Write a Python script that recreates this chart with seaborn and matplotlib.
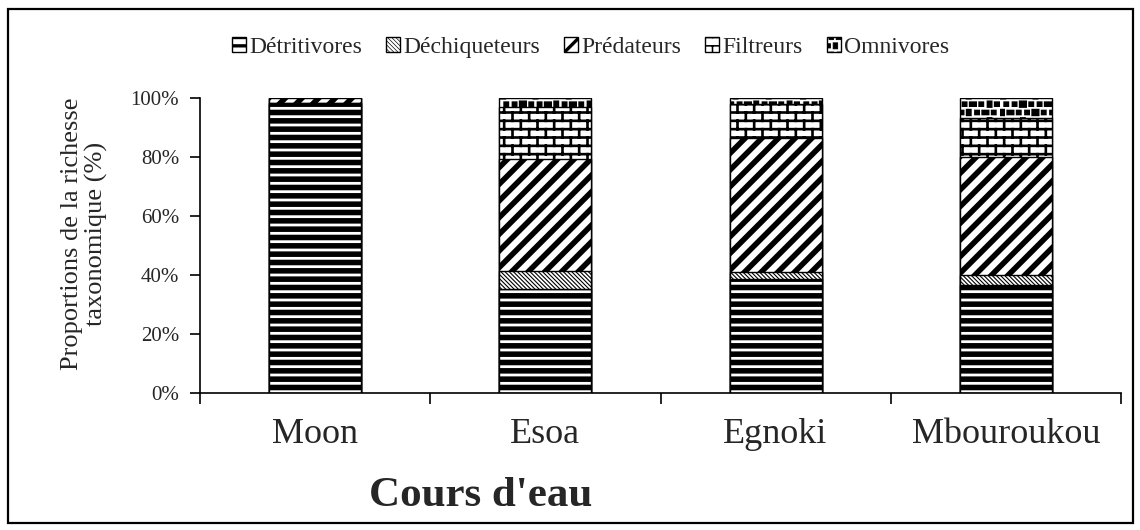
import warnings
import numpy as np
import pandas as pd
import matplotlib
matplotlib.use("Agg")
import matplotlib.pyplot as plt
import matplotlib.hatch as mhatch
from matplotlib.path import Path
from matplotlib.patches import Patch, Rectangle
import seaborn as sns

warnings.filterwarnings("ignore")

# --- data: share of taxonomic richness (%) per feeding group ---
cours = ["Moon", "Esoa", "Egnoki", "Mbouroukou"]
groupes = ["Détritivores", "Déchiqueteurs", "Prédateurs", "Filtreurs", "Omnivores"]
detritivores = [98.4, 35.3, 38.6, 36.7]
dechiqueteurs = [0.0, 5.9, 2.3, 3.3]
predateurs = [1.6, 38.2, 45.5, 40.0]
filtreurs = [0.0, 17.6, 11.4, 13.3]
omnivores = [0.0, 2.9, 2.3, 6.7]
yticks_labels = ["0%", "20%", "40%", "60%", "80%", "100%"]


# --- extra hatch patterns: brick wall ('b') and small filled squares ('q') ---
class BrickHatch(mhatch.HatchPatternBase):
    def __init__(self, hatch, density):
        n = hatch.count("b")
        self.rows = 12 * n
        self.cols = 6
        self.num_vertices = (self.rows * 2 + self.rows * self.cols * 2
                             + self.cols * 2) if n else 0

    def set_vertices_and_codes(self, vertices, codes):
        r, c = self.rows, self.cols
        verts = []
        for i in range(r):
            y = (i + 0.5) / r
            verts += [(0.0, y), (1.0, y)]
        for i in range(r):
            off = 0.25 if i % 2 == 0 else 0.75
            y0 = (i + 0.5) / r
            y1 = (i + 1.5) / r
            for k in range(c):
                x = (k + off) / c
                if i < r - 1:
                    verts += [(x, y0), (x, y1)]
                else:
                    verts += [(x, y0), (x, 1.0), (x, 0.0), (x, 0.5 / r)]
        vertices[:] = np.array(verts)
        codes[0::2] = Path.MOVETO
        codes[1::2] = Path.LINETO


class SquareHatch(mhatch.HatchPatternBase):
    def __init__(self, hatch, density):
        n = hatch.count("q")
        self.rows = 12 * n
        self.cols = 12 * n
        self.num_vertices = self.rows * self.cols * 5 if n else 0

    def set_vertices_and_codes(self, vertices, codes):
        r, c = self.rows, self.cols
        s = 0.6 / c
        verts = []
        cds = []
        for i in range(r):
            off = 0.25 if i % 2 == 0 else 0.75
            yc = (i + 0.5) / r
            for k in range(c):
                xc = (k + off) / c
                w = s * (1.35 if (i + 2 * k) % 3 == 0 else 0.9)
                h = s * (1.2 if (2 * i + k) % 4 == 0 else 0.85)
                verts += [(xc - w / 2, yc - h / 2), (xc + w / 2, yc - h / 2),
                          (xc + w / 2, yc + h / 2), (xc - w / 2, yc + h / 2),
                          (xc - w / 2, yc - h / 2)]
                cds += [Path.MOVETO, Path.LINETO, Path.LINETO, Path.LINETO,
                        Path.CLOSEPOLY]
        vertices[:] = np.array(verts)
        codes[:] = np.array(cds)


mhatch._hatch_types.append(BrickHatch)
mhatch._hatch_types.append(SquareHatch)

hatches = {
    "Détritivores": ("--", 4.0),
    "Déchiqueteurs": ("\\\\\\\\\\\\\\\\", 0.8),
    "Prédateurs": ("//", 4.0),
    "Filtreurs": ("b", 1.9),
    "Omnivores": ("q", 1.0),
}

sns.set_theme(style="white")
plt.rcParams["font.family"] = ["Liberation Serif", "DejaVu Serif"]
plt.rcParams["hatch.color"] = "black"

values = {
    "Détritivores": detritivores,
    "Déchiqueteurs": dechiqueteurs,
    "Prédateurs": predateurs,
    "Filtreurs": filtreurs,
    "Omnivores": omnivores,
}
cum = np.cumsum(np.array([values[g] for g in groupes]), axis=0) / 100.0

fig = plt.figure(figsize=(11.4, 5.3), dpi=100)
ax = fig.add_axes([200 / 1140, 1 - 393 / 530, 921 / 1140, 295 / 530])


def set_hlw(patch, lw):
    if hasattr(patch, "set_hatch_linewidth"):
        patch.set_hatch_linewidth(lw)


# stacked bars: draw cumulative totals from the top group down
for gi in range(len(groupes) - 1, -1, -1):
    g = groupes[gi]
    df = pd.DataFrame({"cours": cours, "cum": cum[gi]})
    n_before = len(ax.patches)
    sns.barplot(data=df, x="cours", y="cum", color="white", saturation=1,
                edgecolor="black", linewidth=1.0, width=0.4, errorbar=None,
                ax=ax)
    for p in ax.patches[n_before:]:
        p.set_hatch(hatches[g][0])
        set_hlw(p, hatches[g][1])

ax.set_xlim(-0.5, 3.5)
ax.set_ylim(0, 1.0)
ax.set_yticks(np.linspace(0, 1, 6))
ax.set_yticklabels(yticks_labels, fontsize=15)
ax.set_xticks(range(len(cours)))
ax.set_xticklabels(cours, fontsize=26)
ax.set_xticks(np.arange(-0.5, 4.0, 1.0), minor=True)
ax.tick_params(axis="x", which="major", length=0, pad=18)
ax.tick_params(axis="x", which="minor", length=8, width=1.2, direction="out",
               color="black", bottom=True)
ax.tick_params(axis="y", length=7, width=1.2, direction="out", color="black",
               left=True, pad=8)
for side in ["top", "right"]:
    ax.spines[side].set_visible(False)
for side in ["left", "bottom"]:
    ax.spines[side].set_color("black")
    ax.spines[side].set_linewidth(1.2)

ax.set_xlabel("Cours d'eau", fontsize=31, fontweight="bold")
ax.xaxis.set_label_coords(0.305, -0.285)
ax.set_ylabel("Proportions de la richesse\ntaxonomique (%)", fontsize=19,
              linespacing=1.1)
ax.yaxis.set_label_coords(-0.100, 0.54)

handles = []
for g in groupes:
    h = Patch(facecolor="white", edgecolor="black", linewidth=1.0,
              hatch=hatches[g][0], label=g)
    handles.append(h)
leg = fig.legend(handles=handles, loc="center", bbox_to_anchor=(0.518, 0.911),
                 ncol=5, frameon=False, fontsize=17, handlelength=0.6,
                 handleheight=0.6, handletextpad=0.15, columnspacing=1.0)
for p, g in zip(leg.get_patches(), groupes):
    set_hlw(p, hatches[g][1] * 0.6)

fig.patches.append(Rectangle((8 / 1140, 7 / 530), 1125 / 1140, 514 / 530,
                             transform=fig.transFigure, fill=False,
                             edgecolor="black", linewidth=1.6))

fig.savefig("out.png", dpi=100)
